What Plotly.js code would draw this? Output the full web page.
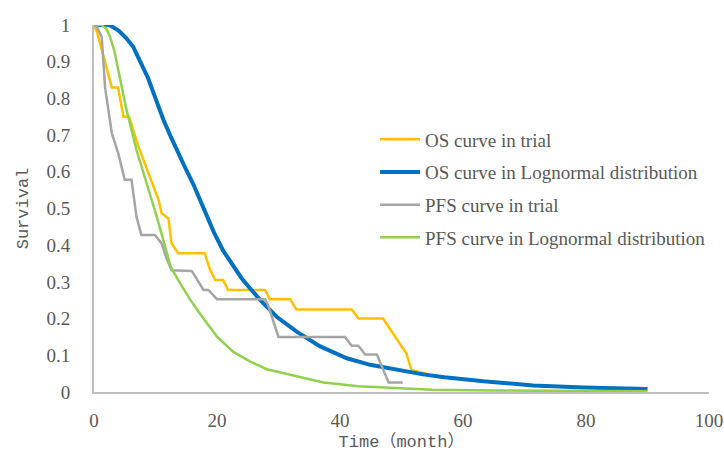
<!DOCTYPE html>
<html>
<head>
<meta charset="utf-8">
<script src="https://cdn.plot.ly/plotly-3.0.1.min.js"></script>
<style>html,body{margin:0;padding:0;background:#fff;}#chart{width:724px;height:452px;}</style>
</head>
<body>
<div id="chart"></div>
<script>
// OS curve in trial
const osTrialT = [0, 0.5, 2.9, 3.9, 4.8, 5.7, 7.2, 9.4, 10.5, 11.0, 12.1, 12.6, 13.7, 18.0, 18.9, 19.7, 21.0, 21.8, 27.8, 28.6, 31.9, 32.9, 41.9, 43.0, 47.0, 50.8, 51.6, 54.0];
const osTrialS = [1, 0.98, 0.83, 0.83, 0.75, 0.75, 0.67, 0.57, 0.523, 0.487, 0.473, 0.405, 0.378, 0.378, 0.332, 0.305, 0.305, 0.278, 0.278, 0.253, 0.253, 0.225, 0.225, 0.20, 0.20, 0.105, 0.06, 0.05];
// OS curve in Lognormal distribution
const osLogT = [0, 2.5, 4, 5.2, 6.4, 7.6, 8.8, 10, 11.3, 12.5, 13.7, 15, 16.1, 18.0, 19.5, 21.0, 22.5, 24.0, 25.5, 27.0, 29.7, 32.9, 36.7, 41.1, 44.9, 49.2, 53.5, 57, 63.3, 71.4, 79.6, 90];
const osLogS = [1, 1.0, 0.985, 0.965, 0.94, 0.9, 0.855, 0.8, 0.741, 0.695, 0.65, 0.605, 0.568, 0.49, 0.435, 0.385, 0.345, 0.31, 0.28, 0.251, 0.205, 0.165, 0.125, 0.092, 0.074, 0.06, 0.048, 0.04, 0.029, 0.018, 0.012, 0.008];
// PFS curve in trial
const pfsTrialT = [0, 0.4, 1.25, 1.8, 2.9, 3.95, 5.0, 6.1, 6.9, 7.7, 9.9, 11.0, 11.8, 12.6, 15.9, 17.2, 17.8, 18.6, 20.0, 27.8, 28.3, 30.0, 40.8, 41.9, 43.0, 44.1, 46.0, 47.9, 50.2];
const pfsTrialS = [1, 0.996, 0.968, 0.83, 0.705, 0.65, 0.578, 0.578, 0.478, 0.428, 0.428, 0.405, 0.364, 0.332, 0.33, 0.292, 0.278, 0.278, 0.253, 0.253, 0.237, 0.15, 0.15, 0.126, 0.126, 0.102, 0.102, 0.026, 0.026];
// PFS curve in Lognormal distribution
const pfsLogT = [0, 1.2, 2.0, 2.6, 3.3, 3.95, 5.3, 6.9, 8.6, 10.2, 11.0, 12.5, 13.7, 15.5, 17.2, 20.0, 22.6, 25.4, 28.1, 33.5, 37.3, 43, 50, 55, 65, 75, 90];
const pfsLogS = [1, 1.0, 0.99, 0.968, 0.93, 0.877, 0.768, 0.66, 0.568, 0.478, 0.43, 0.34, 0.305, 0.255, 0.214, 0.151, 0.11, 0.083, 0.062, 0.04, 0.026, 0.016, 0.009, 0.006, 0.004, 0.003, 0.002];

const seriesNames = ["OS curve in trial", "OS curve in Lognormal distribution", "PFS curve in trial", "PFS curve in Lognormal distribution"];
const yTickVals = [0, 0.1, 0.2, 0.3, 0.4, 0.5, 0.6, 0.7, 0.8, 0.9, 1];
const yTickText = ["0", "0.1", "0.2", "0.3", "0.4", "0.5", "0.6", "0.7", "0.8", "0.9", "1"];
const xTickVals = [0, 20, 40, 60, 80, 100];
const xTickText = ["0", "20", "40", "60", "80", "100"];

const mk = (x, y, name, color, w, g) => ({
  x: x, y: y, name: name, type: 'scatter', mode: 'lines',
  line: {color: color, width: w}, legendgroup: g, hoverinfo: 'skip'
});

const data = [
  mk(osTrialT, osTrialS, seriesNames[0], '#FFC000', 2.5, 'a'),
  mk(osLogT, osLogS, seriesNames[1], '#0070C0', 4, 'b'),
  mk(pfsTrialT, pfsTrialS, seriesNames[2], '#A5A5A5', 2.5, 'c'),
  mk(pfsLogT, pfsLogS, seriesNames[3], '#92D050', 2.5, 'd')
];

const tickFont = {family: '"Liberation Serif", "Times New Roman", serif', size: 19, color: '#595959'};
const titleFont = {family: '"Liberation Mono", "Noto Sans CJK SC", monospace', size: 17, color: '#595959'};

const layout = {
  width: 724, height: 452,
  margin: {l: 94, r: 15, t: 25, b: 60},
  paper_bgcolor: '#ffffff', plot_bgcolor: '#ffffff',
  showlegend: true,
  legend: {
    x: 0.457, xanchor: 'left', y: 0.74, yanchor: 'top',
    font: tickFont, bgcolor: 'rgba(0,0,0,0)', borderwidth: 0,
    traceorder: 'grouped', tracegroupgap: 5, itemwidth: 40
  },
  xaxis: {
    range: [0, 100], tickvals: xTickVals, ticktext: xTickText,
    showgrid: false, zeroline: false, showline: true, linecolor: '#BFBFBF', linewidth: 2,
    ticks: '', ticklabelstandoff: 10, tickfont: tickFont,
    title: {text: 'Time（month）', font: titleFont, standoff: 17}
  },
  yaxis: {
    range: [0, 1], tickvals: yTickVals, ticktext: yTickText,
    showgrid: false, zeroline: false, showline: true, linecolor: '#BFBFBF', linewidth: 2,
    ticks: '', ticklabelstandoff: 18, tickfont: tickFont,
    title: {text: 'Survival', font: titleFont, standoff: 14}
  }
};

Plotly.newPlot('chart', data, layout, {displayModeBar: false, staticPlot: true});
</script>
</body>
</html>
